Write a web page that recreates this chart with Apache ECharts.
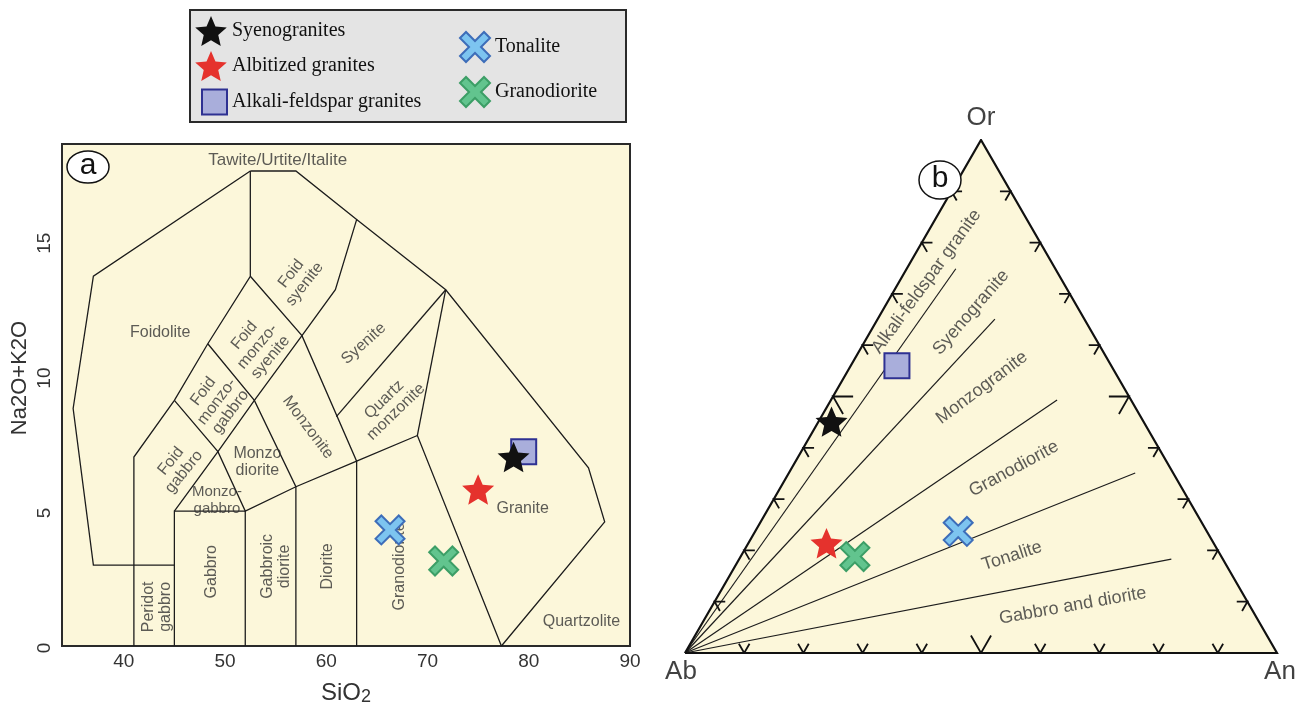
<!DOCTYPE html>
<html>
<head>
<meta charset="utf-8">
<script src="https://cdn.jsdelivr.net/npm/echarts@6/dist/echarts.min.js"></script>
<style>
  html, body { margin: 0; padding: 0; background: #ffffff; }
  #chart { width: 1310px; height: 702px; }
</style>
</head>
<body>
<div id="chart"></div>
<script>
// ---- sample groups ----
const sampleNames = ['Syenogranites', 'Albitized granites', 'Alkali-feldspar granites', 'Tonalite', 'Granodiorite'];

// (a) TAS: SiO2 vs Na2O+K2O (wt%)
const sio2   = [78.5, 75.0, 79.5, 66.3, 71.6];
const alkali = [7.0, 5.8, 7.2, 4.3, 3.15];

// (b) normative feldspar Ab-Or-An (%)
const abPct = [52.7, 65.4, 36.2, 42.0, 61.9];
const orPct = [45.1, 21.4, 56.0, 23.7, 18.8];
const anPct = [2.2, 13.2, 7.8, 34.3, 19.3];

// axis tick labels
const sio2Ticks   = [40, 50, 60, 70, 80, 90];
const alkaliTicks = [0, 5, 10, 15];

// TAS (plutonic) field boundaries, [SiO2, Na2O+K2O]
const tasBoundaries = [
  [[52.5, 17.6], [37, 13.7], [35, 8.8], [37, 3], [45, 3]],
  [[52.5, 17.6], [57, 17.6], [63, 15.8], [71.8, 13.2], [85.9, 6.6], [87.5, 4.6], [77.3, 0]],
  [[41, 0], [41, 7], [45, 9.1], [48.3, 11.2], [52.5, 13.7], [52.5, 17.6]],
  [[45, 0], [45, 5], [52, 5], [52, 0]],
  [[45, 5], [49.3, 7.2], [52.9, 9.1], [57.6, 11.5], [60.9, 13.2], [63, 15.8]],
  [[45, 9.1], [49.3, 7.2], [52, 5], [57, 5.9], [63, 6.85], [69, 7.8], [77.3, 0]],
  [[48.3, 11.2], [52.9, 9.1], [57, 5.9], [57, 0]],
  [[52.5, 13.7], [57.6, 11.5], [63, 6.85], [63, 0]],
  [[61, 8.5], [71.8, 13.2]],
  [[69, 7.8], [71.8, 13.2]]
];

// TAS field names: [SiO2, Na2O+K2O, text, rotation(deg)]
const tasFields = [
  [55.2, 18.0, 'Tawite/Urtite/Italite', 0],
  [43.6, 11.6, 'Foidolite', 0],
  [57.2, 13.6, 'Foid\nsyenite', 52],
  [53.2, 11.1, 'Foid\nmonzo-\nsyenite', 50],
  [49.2, 9.05, 'Foid\nmonzo-\ngabbro', 53],
  [45.3, 6.65, 'Foid\ngabbro', 51],
  [53.2, 6.8, 'Monzo\ndiorite', 0],
  [49.2, 5.4, 'Monzo-\ngabbro', 0],
  [58.2, 8.1, 'Monzonite', -53],
  [63.7, 11.2, 'Syenite', 42],
  [66.3, 8.9, 'Quartz\nmonzonite', 44],
  [79.4, 5.1, 'Granite', 0],
  [85.2, 0.9, 'Quartzolite', 0],
  [48.7, 2.75, 'Gabbro', 90],
  [55.0, 2.95, 'Gabbroic\ndiorite', 90],
  [60.1, 2.95, 'Diorite', 90],
  [67.2, 2.95, 'Granodiorite', 90],
  [43.3, 1.45, 'Peridot\ngabbro', 90]
];

// Ab-Or-An fan boundaries radiating from Ab, end compositions [Ab, Or, An]
const fanEnds = [
  [16.8, 74.9, 8.3],
  [15.1, 65.1, 19.8],
  [12.5, 49.3, 38.2],
  [6.4, 35.1, 58.5],
  [8.7, 18.3, 73.0]
];

// Ab-Or-An field names: [Ab, Or, An, text, rotation(deg)]
const ternFields = [
  [23.0, 72.4, 4.6, 'Alkali-feldspar granite', 54],
  [18.5, 66.4, 15.1, 'Syenogranite', 49],
  [24.0, 51.7, 24.3, 'Monzogranite', 37],
  [26.5, 35.9, 37.6, 'Granodiorite', 28.5],
  [35.3, 18.9, 45.8, 'Tonalite', 18],
  [29.9, 9.2, 60.9, 'Gabbro and diorite', 10]
];

// ---- helpers ----
const H = Math.sqrt(3) / 2;
function tern(ab, or, an) {
  const s = ab + or + an;
  return [(an + or / 2) / s, (or / s) * H];
}
function starPath(R, r) {
  let d = '';
  for (let i = 0; i < 10; i++) {
    const rad = i % 2 === 0 ? R : r;
    const a = -Math.PI / 2 + i * Math.PI / 5;
    const x = 50 + rad * Math.cos(a), y = 50 + rad * Math.sin(a);
    d += (i === 0 ? 'M' : 'L') + x.toFixed(2) + ',' + y.toFixed(2);
  }
  return 'path://' + d + 'Z';
}
const STAR = starPath(50, 23);
const CROSS = 'path://M0,20L20,0L50,30L80,0L100,20L70,50L100,80L80,100L50,70L20,100L0,80L30,50Z';
// legend square, inset inside its icon box
const LEGEND_SQUARE = 'path://M0,0M7,2.5L32,2.5L32,27.5L7,27.5ZM32,30';

const sampleStyle = [
  { symbol: STAR, size: 32, itemStyle: { color: '#111111' } },
  { symbol: STAR, size: 32, itemStyle: { color: '#E5322D' } },
  { symbol: 'rect', size: 25, itemStyle: { color: '#A9AEDB', borderColor: '#2E3192', borderWidth: 2 } },
  { symbol: CROSS, size: 29, itemStyle: { color: '#7DC4F0', borderColor: '#3D6DB9', borderWidth: 2 } },
  { symbol: CROSS, size: 29, itemStyle: { color: '#62C48E', borderColor: '#3C9E66', borderWidth: 2 } }
];
// draw order: square below the black star, green cross above the red star
const drawOrder = [2, 0, 1, 3, 4];

// ternary frame ticks (every 10 %, longer at 50 %)
const ternTicks = [];
for (let k = 1; k <= 9; k++) {
  const len = k === 5 ? 0.034 : 0.018;
  const f = k / 10;
  let p = [f, 0];
  ternTicks.push([[p[0] - len * 0.5, p[1] + len * H], p, [p[0] + len * 0.5, p[1] + len * H]]);
  p = [f * 0.5, f * H];
  ternTicks.push([[p[0] + len, p[1]], p, [p[0] + len * 0.5, p[1] - len * H]]);
  p = [1 - f * 0.5, f * H];
  ternTicks.push([[p[0] - len, p[1]], p, [p[0] - len * 0.5, p[1] - len * H]]);
}
const triangle = [[0, 0], [1, 0], [0.5, H], [0, 0]];

const SANS = 'Liberation Sans';
const FILL = '#FCF7DA';

const series = [];

// (a) field boundaries
series.push({
  type: 'lines', coordinateSystem: 'cartesian2d', xAxisIndex: 0, yAxisIndex: 0,
  polyline: true, silent: true, z: 2,
  lineStyle: { color: '#1c1c1c', width: 1.3, opacity: 1 },
  data: tasBoundaries.map(c => ({ coords: c }))
});
// (a) field names
series.push({
  type: 'scatter', xAxisIndex: 0, yAxisIndex: 0, silent: true, z: 3,
  symbolSize: 1, itemStyle: { color: 'rgba(0,0,0,0)' },
  label: { show: true, position: 'inside', formatter: p => p.name, fontFamily: SANS,
           fontSize: 16, lineHeight: 17, color: '#333333' },
  data: tasFields.map(f => ({ name: f[2], value: [f[0], f[1]],
    label: { rotate: f[3], fontSize: f[2] === 'Tawite/Urtite/Italite' ? 17 : (f[2] === 'Monzo-\ngabbro' ? 15 : 16) } }))
});

// (b) triangle fill
series.push({
  type: 'custom', xAxisIndex: 1, yAxisIndex: 1, silent: true, z: 1, clip: false,
  renderItem: (params, api) => ({
    type: 'polygon',
    shape: { points: triangle.map(p => api.coord(p)) },
    style: { fill: FILL }
  }),
  data: [[0, 0]]
});
// (b) fan lines
series.push({
  type: 'lines', coordinateSystem: 'cartesian2d', xAxisIndex: 1, yAxisIndex: 1,
  polyline: true, silent: true, z: 2,
  lineStyle: { color: '#1c1c1c', width: 1.2, opacity: 1 },
  data: fanEnds.map(e => ({ coords: [[0, 0], tern(e[0], e[1], e[2])] }))
});
// (b) ticks
series.push({
  type: 'lines', coordinateSystem: 'cartesian2d', xAxisIndex: 1, yAxisIndex: 1,
  polyline: true, silent: true, z: 2,
  lineStyle: { color: '#111111', width: 1.8, opacity: 1 },
  data: ternTicks.map(c => ({ coords: c }))
});
// (b) frame
series.push({
  type: 'lines', coordinateSystem: 'cartesian2d', xAxisIndex: 1, yAxisIndex: 1,
  polyline: true, silent: true, z: 3,
  lineStyle: { color: '#111111', width: 2.2, opacity: 1, join: 'miter' },
  data: [{ coords: triangle }]
});
// (b) field names
series.push({
  type: 'scatter', xAxisIndex: 1, yAxisIndex: 1, silent: true, z: 3,
  symbolSize: 1, itemStyle: { color: 'rgba(0,0,0,0)' },
  label: { show: true, position: 'inside', formatter: p => p.name, fontFamily: SANS,
           fontSize: 18, color: '#333333' },
  data: ternFields.map(f => ({ name: f[3], value: tern(f[0], f[1], f[2]), label: { rotate: f[4] } }))
});
// (b) apex names
series.push({
  type: 'scatter', xAxisIndex: 1, yAxisIndex: 1, silent: true, z: 3,
  symbolSize: 1, itemStyle: { color: 'rgba(0,0,0,0)' },
  label: { show: true, position: 'inside', formatter: p => p.name, fontFamily: SANS,
           fontSize: 26, color: '#111111' },
  data: [
    { name: 'Ab', value: tern(100, 0, 0), label: { offset: [-4, 19] } },
    { name: 'An', value: tern(0, 0, 100), label: { offset: [3, 19] } },
    { name: 'Or', value: tern(0, 100, 0), label: { offset: [0, -22] } }
  ]
});

// samples in both diagrams
drawOrder.forEach(i => {
  const st = sampleStyle[i];
  series.push({
    type: 'scatter', name: sampleNames[i], xAxisIndex: 0, yAxisIndex: 0, z: 5,
    symbol: st.symbol, symbolSize: st.size, symbolKeepAspect: true,
    itemStyle: Object.assign({ opacity: 1 }, st.itemStyle),
    data: [[sio2[i], alkali[i]]]
  });
  series.push({
    type: 'scatter', name: sampleNames[i], xAxisIndex: 1, yAxisIndex: 1, z: 5,
    symbol: st.symbol, symbolSize: st.size, symbolKeepAspect: true,
    itemStyle: Object.assign({ opacity: 1 }, st.itemStyle),
    data: [tern(abPct[i], orPct[i], anPct[i])]
  });
});

const legendText = { fontFamily: 'Liberation Serif', fontSize: 20, color: '#111111' };

const option = {
  backgroundColor: '#ffffff',
  animation: false,
  grid: [
    { left: 62, top: 144, width: 568, height: 502, show: true, backgroundColor: FILL,
      borderColor: '#2a2a2a', borderWidth: 2, outerBoundsMode: 'none' },
    { left: 685, top: 140, width: 592, height: 513, show: false, outerBoundsMode: 'none' }
  ],
  xAxis: [
    { type: 'value', gridIndex: 0, min: 33.9, max: 90,
      name: 'SiO{s|2}', nameLocation: 'middle', nameGap: 34,
      nameTextStyle: { fontFamily: SANS, fontSize: 24, color: '#333333',
        rich: { s: { fontFamily: SANS, fontSize: 18, color: '#333333', padding: [8, 0, 0, 0] } } },
      axisLine: { show: false }, axisTick: { show: false }, splitLine: { show: false },
      axisLabel: { customValues: sio2Ticks, fontFamily: SANS, fontSize: 19, color: '#333333', margin: 6 } },
    { type: 'value', gridIndex: 1, min: 0, max: 1, show: false, splitLine: { show: false } }
  ],
  yAxis: [
    { type: 'value', gridIndex: 0, min: 0, max: 18.6,
      name: 'Na2O+K2O', nameLocation: 'middle', nameGap: 31, nameRotate: 90,
      nameTextStyle: { fontFamily: SANS, fontSize: 22, color: '#333333', padding: [0, 0, 0, 34] },
      axisLine: { show: false }, axisTick: { show: false }, splitLine: { show: false },
      axisLabel: { customValues: alkaliTicks, rotate: 90, fontFamily: SANS, fontSize: 19, color: '#333333',
                   margin: 8, padding: [0, 4, 0, 0] } },
    { type: 'value', gridIndex: 1, min: 0, max: H, show: false, splitLine: { show: false } }
  ],
  legend: [
    { data: [{ name: sampleNames[0] }, { name: sampleNames[1] }, { name: sampleNames[2], icon: LEGEND_SQUARE }],
      orient: 'vertical', left: 194, top: 16, padding: 0,
      itemWidth: 32, itemHeight: 30, itemGap: 5, textStyle: legendText, selectedMode: false, z: 10 },
    { data: sampleNames.slice(3), orient: 'vertical', left: 459, top: 31, padding: 0,
      itemWidth: 30, itemHeight: 30, itemGap: 13, textStyle: legendText, selectedMode: false, z: 10 }
  ],
  graphic: [
    { type: 'rect', z: 0, shape: { x: 190, y: 10, width: 436, height: 112 },
      style: { fill: '#E4E4E4', stroke: '#2a2a2a', lineWidth: 2 } },
    { type: 'ellipse', z: 20, shape: { cx: 88, cy: 167, rx: 21, ry: 16 },
      style: { fill: '#ffffff', stroke: '#111111', lineWidth: 1.5 } },
    { type: 'text', z: 21, x: 88, y: 166,
      style: { text: 'a', fontFamily: SANS, fontSize: 30, fill: '#111111', align: 'center', verticalAlign: 'middle' } },
    { type: 'ellipse', z: 20, shape: { cx: 940, cy: 180, rx: 21, ry: 19 },
      style: { fill: '#ffffff', stroke: '#111111', lineWidth: 1.5 } },
    { type: 'text', z: 21, x: 940, y: 179,
      style: { text: 'b', fontFamily: SANS, fontSize: 30, fill: '#111111', align: 'center', verticalAlign: 'middle' } }
  ],
  series: series
};

const chart = echarts.init(document.getElementById('chart'), null, { renderer: 'canvas' });
chart.setOption(option);
</script>
</body>
</html>
